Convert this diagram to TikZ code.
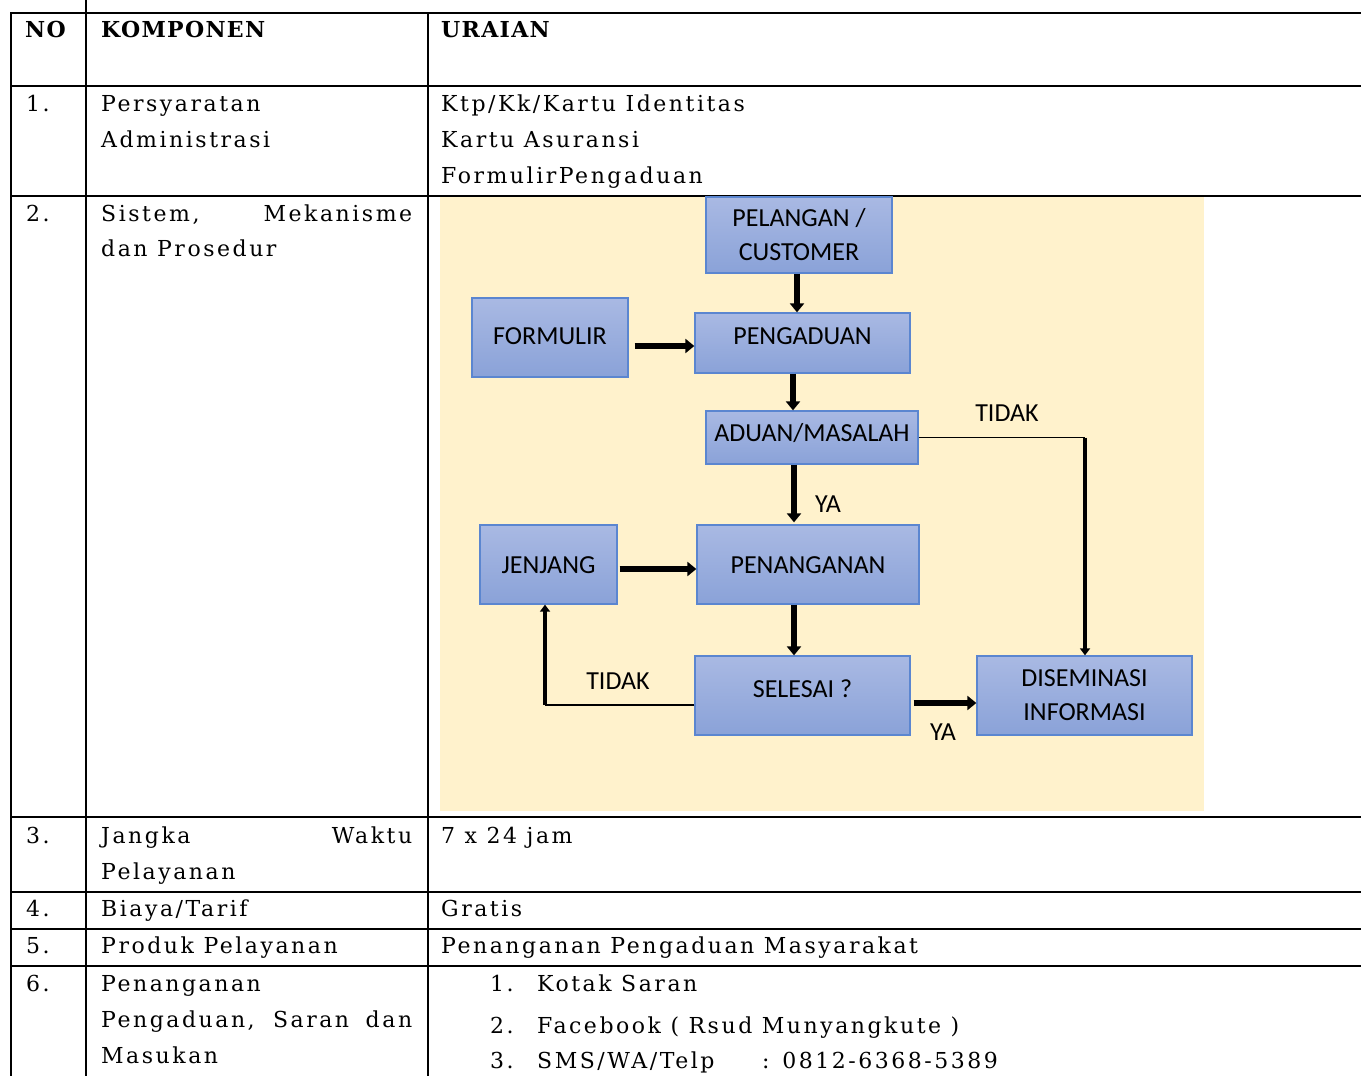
\documentclass[tikz,border=0pt]{standalone}
\usepackage{fontspec}
\usetikzlibrary{arrows.meta}
\newfontfamily\flowfont{Carlito}
\newfontfamily\bookfont[LetterSpace=11.5]{DejaVu Serif}
\newfontfamily\bookbold[LetterSpace=6]{DejaVu Serif Bold}

\definecolor{cream}{HTML}{FFF2CC}
\definecolor{boxtop}{HTML}{A9B9E3}
\definecolor{boxbot}{HTML}{8AA2D8}
\definecolor{boxline}{HTML}{5B86D0}

\tikzset{
  rule/.style={line width=1.8pt, line cap=rect},
  cell/.style={anchor=base west, inner sep=0pt, font=\bookfont\fontsize{22}{26}\selectfont},
  headcell/.style={cell, font=\bookbold\fontsize{22}{26}\selectfont},
  box/.style={draw=boxline, line width=1.3pt, top color=boxtop, bottom color=boxbot,
    font=\flowfont\fontsize{26}{34}\selectfont, inner sep=0pt, align=center},
  oneline/.style={text height=17pt, text depth=#1},
  oneline/.default=0pt,
  tag/.style={font=\flowfont\fontsize{26}{34}\selectfont, inner sep=0pt},
  fat/.style={line width=5.5pt, -{Triangle[length=9pt,width=14pt]}},
  fatlong/.style={line width=4pt, -{Triangle[length=7pt,width=10pt]}},
  thinline/.style={line width=1.5pt}
}

\begin{document}
\begin{tikzpicture}[x=1pt,y=-1pt]
\useasboundingbox (0,0) rectangle (1361,1076);

% flowchart background
\fill[cream] (440,197) rectangle (1204,811);

% table rules
\foreach \yy in {13,86,196,817,892,929,966}
  \draw[rule] (11,\yy) -- (1362,\yy);
\draw[rule] (11,13) -- (11,1077);
\draw[rule] (86,-1) -- (86,1077);
\draw[rule] (428,13) -- (428,1077);

% header
\node[headcell] (hno) at (25,37) {NO};
\node[headcell] (hkomp) at (101,37) {KOMPONEN};
\node[headcell] (hurai) at (441,37) {URAIAN};

% row 1
\node[cell] (n1) at (26,111) {1.};
\node[cell] (k1a) at (101,111) {Persyaratan};
\node[cell] (k1b) at (101,147) {Administrasi};
\node[cell] (u1a) at (441,111) {Ktp/Kk/Kartu Identitas};
\node[cell] (u1b) at (441,147) {Kartu Asuransi};
\node[cell] (u1c) at (441,183) {FormulirPengaduan};

% row 2
\node[cell] (n2) at (26,221) {2.};
\node[cell] (k2a) at (101,221) {\makebox[311pt][s]{Sistem, Mekanisme}};
\node[cell] (k2b) at (101,256) {dan Prosedur};

% row 3
\node[cell] (n3) at (26,843) {3.};
\node[cell] (k3a) at (101,843) {\makebox[311pt][s]{Jangka Waktu}};
\node[cell] (k3b) at (101,879) {Pelayanan};
\node[cell] (u3) at (441,843) {7 x 24 jam};

% row 4
\node[cell] (n4) at (26,916) {4.};
\node[cell] (k4) at (101,916) {Biaya/Tarif};
\node[cell] (u4) at (441,916) {Gratis};

% row 5
\node[cell] (n5) at (26,953) {5.};
\node[cell] (k5) at (101,953) {Produk Pelayanan};
\node[cell] (u5) at (441,953) {Penanganan Pengaduan Masyarakat};

% row 6
\node[cell] (n6) at (26,991) {6.};
\node[cell] (k6a) at (101,991) {Penanganan};
\node[cell] (k6b) at (101,1027) {\makebox[311pt][s]{Pengaduan, Saran dan}};
\node[cell] (k6c) at (101,1063) {Masukan};
\node[cell] (l1n) at (490,991) {1.};
\node[cell] (l1) at (537,991) {Kotak Saran};
\node[cell] (l2n) at (490,1033) {2.};
\node[cell] (l2) at (537,1033) {Facebook ( Rsud Munyangkute )};
\node[cell] (l3n) at (490,1068) {3.};
\node[cell] (l3) at (537,1068) {\makebox[225pt][l]{SMS/WA/Telp}: 0812-6368-5389};

% flowchart boxes
\node[box, minimum width=186, minimum height=76] (pel) at (799,235) {PELANGAN /\\CUSTOMER};
\node[box, oneline=3pt, minimum width=156, minimum height=79] (form) at (550,337.5) {FORMULIR};
\node[box, oneline=14pt, minimum width=215, minimum height=60] (peng) at (802.5,343) {PENGADUAN};
\node[box, oneline=9pt, minimum width=212, minimum height=53] (aduan) at (812,437.5) {ADUAN/MASALAH};
\node[box, oneline, minimum width=137, minimum height=79] (jenj) at (548.5,564.5) {JENJANG};
\node[box, oneline, minimum width=222, minimum height=79] (penan) at (808,564.5) {PENANGANAN};
\node[box, oneline=13pt, minimum width=215, minimum height=79] (sel) at (802.5,695.5) {SELESAI ?};
\node[box, minimum width=215, minimum height=79] (disem) at (1084.5,695.5) {DISEMINASI\\INFORMASI};

% connectors
\draw[fat] ([xshift=-2pt]pel.south) -- ([xshift=-5.5pt]peng.north);
\draw[fat] ([xshift=6pt,yshift=-8.5pt]form.east) -- ([yshift=-3pt]peng.west);
\draw[fat] ([xshift=-9.5pt]peng.south) -- ([xshift=-19pt]aduan.north);
\draw[fat] ([xshift=-18pt]aduan.south) -- ([xshift=-14pt,yshift=2pt]penan.north);
\draw[fat] ([xshift=2pt,yshift=-4.5pt]jenj.east) -- ([yshift=-4.5pt]penan.west);
\draw[fat] ([xshift=-14pt]penan.south) -- ([xshift=-8.5pt]sel.north);
\draw[fat] ([xshift=3pt,yshift=-7.5pt]sel.east) -- ([yshift=-7.5pt]disem.west);

\coordinate (tk1) at (1085,437.5);
\draw[thinline] (aduan.east) -- (tk1);
\draw[fatlong] (tk1) -- (tk1 |- disem.north);

\coordinate (tk2) at (545,705);
\draw[thinline] ([yshift=-9.5pt]sel.west) -- (tk2);
\draw[fatlong] (tk2) -- (tk2 |- jenj.south);

% branch labels
\node[tag] (tidak1) at (1007,413) {TIDAK};
\node[tag] (ya1) at (828,504) {YA};
\node[tag] (tidak2) at (618,681) {TIDAK};
\node[tag] (ya2) at (943,732) {YA};
\end{tikzpicture}
\end{document}
